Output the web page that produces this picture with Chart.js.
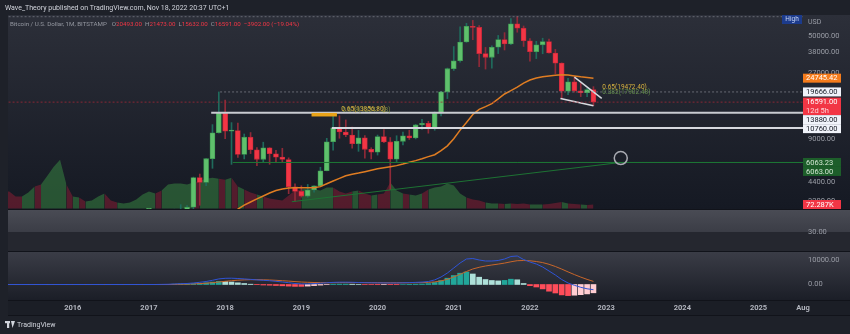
<!DOCTYPE html>
<html>
<head>
<meta charset="utf-8">
<script src="https://cdn.jsdelivr.net/npm/chart.js@4.4.0/dist/chart.umd.min.js"></script>
<style>
  html, body { margin: 0; padding: 0; background: #1e2129; }
  canvas { display: block; }
</style>
</head>
<body>
<canvas id="chart" width="850" height="334"></canvas>
<script>
// monthly BTC/USD (Bitstamp), index 0 = Jan 2015 ... 94 = Nov 2022
const open = [
  320, 217, 254, 244, 236, 230, 263, 284, 230, 236, 313, 378,
  430, 369, 436, 416, 448, 531, 673, 624, 575, 609, 700, 745,
  966, 970, 1190, 1080, 1350, 2300, 2480, 2875, 4720, 4340, 6450, 9960,
  13880, 10221, 10326, 6926, 9245, 7495, 6390, 7730, 7010, 6625, 6370, 4040,
  3740, 3460, 3830, 4100, 5280, 8560, 10820, 10080, 9580, 8290, 9150, 7550,
  7190, 9350, 8540, 6410, 8630, 9450, 9140, 11340, 11650, 10780, 13800, 19700,
  28990, 33110, 45240, 58800, 57700, 37300, 35040, 41460, 47100, 43790, 61300, 57000,
  46200, 38480, 43160, 45530, 37640, 31800, 19930, 23300, 20050, 19430, 20493
];
const high = [
  320, 265, 300, 261, 247, 268, 316, 286, 245, 334, 500, 469,
  462, 448, 440, 469, 552, 780, 703, 626, 631, 740, 752, 975,
  1150, 1208, 1290, 1365, 2780, 3000, 2950, 4750, 5000, 6470, 11400, 19666,
  17176, 11789, 11700, 9750, 9990, 7770, 8500, 7760, 7410, 7680, 6550, 4240,
  4110, 4200, 4100, 5600, 9070, 13880, 13200, 12330, 10950, 10350, 9500, 7750,
  9580, 10500, 9190, 9470, 10070, 10380, 11440, 12470, 12050, 14100, 19900, 29300,
  41950, 58350, 61780, 64900, 59500, 41330, 42400, 50500, 52900, 67000, 69000, 59100,
  47990, 45800, 48200, 47450, 40000, 31950, 24670, 25200, 22800, 20990, 21473
];
const low = [
  152, 212, 236, 214, 228, 218, 253, 162, 225, 235, 311, 349,
  350, 365, 397, 413, 443, 510, 605, 470, 567, 603, 686, 741,
  751, 920, 885, 1060, 1345, 2115, 1830, 2670, 2970, 4110, 5500, 9900,
  9035, 5873, 6600, 6430, 7030, 5750, 6080, 5880, 6100, 6100, 3600, 3160,
  3400, 3390, 3690, 4080, 5270, 7450, 9080, 9320, 7710, 7300, 6500, 6430,
  6860, 8420, 3850, 6150, 8120, 8900, 8980, 10520, 9880, 10370, 13200, 17600,
  28130, 32300, 44950, 47000, 30000, 28800, 29300, 37300, 39600, 43290, 53250, 42000,
  32900, 34300, 37200, 37550, 26700, 17600, 18780, 19600, 18200, 18200, 15632
];
const close = [
  217, 254, 244, 236, 230, 263, 284, 230, 236, 313, 378, 430,
  369, 436, 416, 448, 531, 673, 624, 575, 609, 700, 745, 966,
  970, 1190, 1080, 1350, 2300, 2480, 2875, 4720, 4340, 6460, 9950, 13880,
  10221, 10326, 6926, 9245, 7495, 6390, 7730, 7010, 6625, 6370, 4040, 3740,
  3460, 3830, 4100, 5280, 8560, 10820, 10080, 9580, 8290, 9150, 7550, 7190,
  9350, 8540, 6410, 8630, 9450, 9140, 11340, 11650, 10780, 13800, 19700, 28990,
  33110, 45240, 58800, 57700, 37300, 35040, 41460, 47100, 43790, 61300, 57000, 46200,
  38480, 43160, 45530, 37640, 31800, 19930, 23300, 20050, 19430, 20490, 16591
];
// volume in thousands BTC
const volume = [
  360, 324, 306, 216, 216, 288, 396, 432, 594, 756, 882, 432,
  216, 198, 126, 144, 216, 270, 144, 108, 90, 108, 162, 252,
  306, 270, 324, 432, 450, 450, 432, 468, 504, 540, 558, 540,
  522, 558, 396, 342, 288, 252, 216, 180, 162, 144, 234, 324,
  342, 360, 342, 324, 378, 378, 306, 270, 306, 324, 270, 234,
  252, 270, 468, 324, 270, 252, 234, 270, 342, 378, 396, 450,
  414, 270, 198, 162, 144, 108, 90, 90, 81, 90, 81, 90,
  72, 72, 72, 81, 99, 117, 90, 81, 72, 63, 72.287
];
// orange moving average, from index 37 (Feb 2018)
const maStart = 37;
const maValues = [
  2550, 2780, 2980, 3135, 3300, 3465, 3640, 3800, 3890, 3960,
  3970, 3970, 3970, 3970, 4050, 4250, 4450, 4650, 4850, 4980,
  5080, 5200, 5330, 5450, 5550, 5650, 5750, 5900, 6080, 6250,
  6450, 6680, 6900, 7400, 8000, 9000, 10400, 11800, 13500, 14700,
  15400, 16200, 17500, 19000, 20100, 21300, 22800, 24000, 24800, 25300,
  25700, 26000, 26200, 26100, 25700, 25300, 25000, 24745
];
const macdLine = [
  0, 0, 0, 0, 0, 0, 0, 0, 0, 0, 0, 0,
  0, 0, 0, 0, 0, 0, 0, 0, 0, 0, 0, 0,
  0, 0, 40, 80, 210, 330, 420, 630, 920, 1250, 1750, 2330,
  2580, 2630, 2500, 2330, 2130, 1920, 1750, 1580, 1330, 1040, 750, 420,
  250, 250, 380, 540, 710, 880, 960, 960, 920, 830, 750, 710,
  670, 670, 630, 630, 710, 790, 880, 1000, 1250, 1920, 3130, 4790,
  6880, 8960, 10630, 10830, 10210, 9790, 9790, 10000, 10630, 11670, 11880, 10420,
  9380, 8540, 7290, 5630, 3960, 2080, 630, -330, -1170, -1790, -2170
];
const signalLine = [
  0, 0, 0, 0, 0, 0, 0, 0, 0, 0, 0, 0,
  0, 0, 0, 0, 0, 0, 0, 0, 0, 0, 0, 0,
  0, 0, 0, 0, 40, 100, 170, 250, 380, 540, 750, 1040,
  1330, 1580, 1790, 1920, 2000, 2000, 1960, 1880, 1750, 1580, 1420, 1210,
  1040, 920, 830, 790, 750, 750, 790, 790, 790, 790, 790, 750,
  750, 710, 710, 710, 710, 710, 750, 790, 880, 1080, 1500, 2170,
  3130, 4250, 5420, 6460, 7170, 7710, 8130, 8500, 8920, 9460, 9920, 10000,
  9880, 9580, 9130, 8420, 7500, 6420, 5250, 4130, 3080, 2130, 1290
];
const macdHist = [
  0, 0, 0, 0, 0, 0, 0, 0, 0, 0, 0, 0,
  0, 0, 0, 0, 0, 0, 0, 0, 0, 0, 0, 0,
  0, 0, 0, 0, 130, 210, 250, 380, 500, 710, 1000, 1290,
  1250, 1040, 710, 420, 130, -80, -210, -290, -420, -540, -670, -790,
  -790, -670, -460, -250, -40, 130, 170, 170, 130, 40, -40, -40,
  -80, -40, -80, -80, 0, 80, 130, 210, 380, 830, 1630, 2630,
  3750, 4710, 5210, 4380, 3040, 2080, 1670, 1500, 1710, 2210, 1960, 420,
  -500, -1040, -1830, -2790, -3540, -4330, -4630, -4460, -4250, -3920, -3460
];

const yearTicks = [12, 24, 36, 48, 60, 72, 84, 96, 108, 120, 127];
const yearLabels = ['2016', '2017', '2018', '2019', '2020', '2021', '2022', '2023', '2024', '2025', 'Aug'];
const priceTicks = [50000, 38000, 27000, 20000, 14000, 9000, 4400, 3200];
const rsiTicks = [30];
const macdTicks = [0, 10000];

// drawings: [fromMonth, fromPrice, toMonth, toPrice]
const level13880 = [33.8, 13880, 127, 13880];
const level10760 = [52.8, 10760, 127, 10760];
const level19666 = [35.2, 19666, 127, 19666];
const levelLast = [0, 16591, 127, 16591];
const levelHigh = [0, 69000, 127, 69000];
const level6063 = [37.2, 6063.23, 127, 6063.23];
const greenTrend = [46.5, 3150, 98.3, 6063];
const wedgeTop = [91, 25200, 95.3, 17690];
const wedgeBottom = [88.8, 17600, 94, 15632];
const circleMark = [98.3, 6530];
const fibZone = [49.6, 53.6, 13060, 13856.8];

const upBody = '#5fc06c', downBody = '#f23645';
const upEdge = '#3f9a52', downEdge = '#c5283a';
const upWick = '#1f6b5c', downWick = '#8f2a38';
const volUp = 'rgba(62,155,72,0.45)', volDown = 'rgba(160,30,55,0.45)';

const idx = close.map((_, i) => i);
const isUp = i => close[i] >= open[i];
const seg = (a, color, width, dash) => ({
  type: 'line', yAxisID: 'y',
  data: [{ x: a[0], y: a[1] }, { x: a[2], y: a[3] }],
  borderColor: color, borderWidth: width, borderDash: dash || [],
  pointRadius: 0, order: 2
});

const FONT = 'Roboto, "Noto Sans", sans-serif';

const panePlugin = {
  id: 'panes',
  beforeDraw(chart) {
    const { ctx, width, height } = chart;
    const L = chart.chartArea.left;
    const main = chart.scales.y, rsi = chart.scales.yRsi, macd = chart.scales.yMacd;
    ctx.save();
    ctx.fillStyle = '#1e2129';
    ctx.fillRect(0, 0, width, height);
    let g = ctx.createLinearGradient(0, main.top, 0, main.bottom);
    g.addColorStop(0, '#2c2f39');
    g.addColorStop(1, '#151923');
    ctx.fillStyle = g;
    ctx.fillRect(L, main.top, width - L, main.bottom - main.top);
    ctx.fillStyle = '#25272f';
    ctx.fillRect(L, rsi.top, width - L, rsi.bottom - rsi.top);
    const b30 = rsi.getPixelForValue(30);
    g = ctx.createLinearGradient(0, rsi.top, 0, b30);
    g.addColorStop(0, '#4a4c55');
    g.addColorStop(1, '#3b3d46');
    ctx.fillStyle = g;
    ctx.fillRect(L, rsi.top, width - L, b30 - rsi.top);
    g = ctx.createLinearGradient(0, macd.top, 0, macd.bottom);
    g.addColorStop(0, '#3b3d47');
    g.addColorStop(1, '#1b1e27');
    ctx.fillStyle = g;
    ctx.fillRect(L, macd.top, width - L, macd.bottom - macd.top);
    ctx.fillStyle = '#1b1e26';
    ctx.fillRect(L, macd.bottom, width - L, 15);
    ctx.strokeStyle = '#11131a';
    ctx.lineWidth = 1;
    [main.bottom, rsi.bottom, macd.bottom, macd.bottom + 15].forEach(y => {
      ctx.beginPath(); ctx.moveTo(L, Math.round(y) + 0.5); ctx.lineTo(width, Math.round(y) + 0.5); ctx.stroke();
    });
    ctx.restore();
  },
  afterDatasetsDraw(chart) {
    const { ctx } = chart;
    const x = chart.scales.x, y = chart.scales.y;
    ctx.save();
    // fib zone
    const zx0 = x.getPixelForValue(fibZone[0]), zx1 = x.getPixelForValue(fibZone[1]);
    const zy0 = y.getPixelForValue(fibZone[3]), zy1 = y.getPixelForValue(fibZone[2]);
    ctx.fillStyle = '#e9a318';
    ctx.fillRect(zx0, zy0, zx1 - zx0, zy1 - zy0);
    ctx.font = '6.5px ' + FONT;
    ctx.textBaseline = 'bottom';
    ctx.textAlign = 'left';
    let tx = x.getPixelForValue(54.3), ty = y.getPixelForValue(13856.8);
    ctx.fillStyle = 'rgba(140,160,70,0.8)';
    ctx.fillText('0.618(13547.38)', tx + 1, ty + 1);
    ctx.fillStyle = '#d6b13e';
    ctx.fillText('0.65(13856.80)', tx, ty - 0.5);
    tx = x.getPixelForValue(95.4);
    ctx.fillStyle = 'rgba(110,160,80,0.85)';
    ctx.fillText('0.382(17902.48)', tx, y.getPixelForValue(17902.48) - 2);
    ctx.fillStyle = '#d6b13e';
    ctx.fillText('0.65(19472.40)', tx, y.getPixelForValue(19472.4) - 2);
    ctx.restore();
  },
  afterDraw(chart) {
    const { ctx } = chart;
    const area = chart.chartArea;
    ctx.save();
    // header
    ctx.fillStyle = '#d1d4dc';
    ctx.font = '7px ' + FONT;
    ctx.textBaseline = 'middle';
    ctx.textAlign = 'left';
    ctx.fillText('Wave_Theory published on TradingView.com, Nov 18, 2022 20:37 UTC+1', 5, 8);
    // legend
    ctx.font = '6.2px ' + FONT;
    let lx = 10;
    const put = (t, c, gap) => { ctx.fillStyle = c; ctx.fillText(t, lx, 24); lx += ctx.measureText(t).width + (gap || 0); };
    put('Bitcoin / U.S. Dollar, 1M, BITSTAMP', '#9598a1', 5);
    put('O', '#9598a1'); put('20493.00', '#f23645', 3);
    put('H', '#9598a1'); put('21473.00', '#f23645', 3);
    put('L', '#9598a1'); put('15632.00', '#f23645', 3);
    put('C', '#9598a1'); put('16591.00', '#f23645', 3);
    put('\u22123902.00 (\u221219.04%)', '#f23645');
    // High marker + USD
    ctx.fillStyle = '#1c3b8c';
    ctx.fillRect(area.right - 21, area.top, 20, 9);
    ctx.fillStyle = '#c9d6f5';
    ctx.font = '6.5px ' + FONT;
    ctx.textAlign = 'center';
    ctx.fillText('High', area.right - 11, area.top + 4.7);
    ctx.textAlign = 'left';
    ctx.fillStyle = '#9a9da6';
    ctx.font = '7px ' + FONT;
    ctx.fillText('USD', area.right + 5, area.top + 7);
    // price tags
    const tags = [
      { axis: 'y', value: 24745.42, lines: ['24745.42'], bg: '#f57c1c', fg: '#ffffff' },
      { axis: 'y', value: 19666, lines: ['19666.00'], bg: '#f0f3fa', fg: '#131722' },
      { axis: 'y', value: 16591, lines: ['16591.00', '12d 5h'], bg: '#f23645', fg: '#ffffff' },
      { axis: 'y', value: 13880, lines: ['13880.00'], bg: '#f0f3fa', fg: '#131722' },
      { axis: 'y', value: 10760, lines: ['10760.00'], bg: '#f0f3fa', fg: '#131722' },
      { axis: 'y', value: 6063.23, lines: ['6063.23'], bg: '#1d5e2a', fg: '#d2e6d2' },
      { axis: 'y', value: 6063, lines: ['6063.00'], bg: '#1d5e2a', fg: '#d2e6d2' },
      { axis: 'yVol', value: 72.287, lines: ['72.287K'], bg: '#f23645', fg: '#ffffff' }
    ];
    ctx.font = '7.5px ' + FONT;
    let prevBottom = -1e9;
    tags.map(t => ({ ...t, py: chart.scales[t.axis].getPixelForValue(t.value) }))
      .sort((a, b) => a.py - b.py)
      .forEach(t => {
        const h = t.lines.length * 8.5 + 0.5;
        let top = t.py - 4.5;
        if (top < prevBottom) top = prevBottom;
        ctx.fillStyle = t.bg;
        ctx.fillRect(area.right, top, 38, h);
        t.lines.forEach((s, k) => {
          ctx.fillStyle = k === 0 ? t.fg : '#ffd2d6';
          ctx.fillText(s, area.right + 3, top + 4.7 + k * 8.5);
        });
        prevBottom = top + h;
      });
    // footer
    ctx.fillStyle = '#d1d4dc';
    ctx.fillRect(5, 321, 5, 2.2);
    ctx.fillRect(7, 321, 2.2, 7);
    ctx.beginPath(); ctx.moveTo(11, 321); ctx.lineTo(15, 321); ctx.lineTo(12.5, 328); ctx.closePath(); ctx.fill();
    ctx.font = '7px ' + FONT;
    ctx.fillText('TradingView', 17, 325);
    ctx.restore();
  }
};

const axisFont = { family: FONT, size: 7.5 };
const fixTicks = list => s => { s.ticks = list.map(v => ({ value: v })); };
const rightAxis = (extra) => Object.assign({
  position: 'right', bounds: 'data',
  grid: { display: false, drawTicks: false }, border: { display: false },
  ticks: { color: '#9a9da6', font: axisFont, padding: 5, autoSkip: false, callback: v => Number(v).toFixed(2) },
  afterFit: s => { s.width = 47; }
}, extra);

new Chart(document.getElementById('chart'), {
  type: 'bar',
  data: {
    datasets: [
      {
        type: 'line', yAxisID: 'yVol',
        data: volume.map((v, i) => ({ x: i, y: v })),
        fill: 'origin', borderWidth: 0, pointRadius: 0, backgroundColor: volUp,
        segment: { backgroundColor: c => isUp(c.p1DataIndex) ? volUp : volDown },
        order: 20
      },
      {
        type: 'bar', yAxisID: 'y',
        data: idx.map(i => ({ x: i, y: [low[i], high[i]] })),
        backgroundColor: idx.map(i => isUp(i) ? upWick : downWick),
        barThickness: 1, grouped: false, order: 12
      },
      {
        type: 'bar', yAxisID: 'y',
        data: idx.map(i => ({ x: i, y: [open[i], close[i]] })),
        backgroundColor: idx.map(i => isUp(i) ? upBody : downBody),
        borderColor: idx.map(i => isUp(i) ? upEdge : downEdge),
        borderWidth: 0.8, borderSkipped: false,
        barThickness: 5, minBarLength: 1, grouped: false, order: 11
      },
      {
        type: 'line', yAxisID: 'y',
        data: maValues.map((v, k) => ({ x: maStart + k, y: v })),
        borderColor: '#e07d22', borderWidth: 1.5, pointRadius: 0, order: 3
      },
      seg(levelHigh, 'rgba(150,152,160,0.55)', 1, [2, 2]),
      seg(levelLast, 'rgba(160,40,55,0.8)', 1, [2, 2]),
      seg(level19666, 'rgba(150,152,160,0.6)', 1, [2, 2]),
      seg(level13880, '#c9cbd1', 2),
      seg(level10760, '#d6d8de', 2),
      seg(level6063, '#1d7a35', 1),
      seg(greenTrend, '#1d7233', 1),
      seg(wedgeTop, '#d9dbe0', 1.5),
      seg(wedgeBottom, '#d9dbe0', 1.5),
      {
        type: 'line', yAxisID: 'y', showLine: false,
        data: [{ x: circleMark[0], y: circleMark[1] }],
        pointRadius: 6.5, pointBorderColor: '#a9abb2', pointBorderWidth: 1.5,
        pointBackgroundColor: 'rgba(0,0,0,0)', order: 1
      },
      {
        type: 'bar', yAxisID: 'yMacd',
        data: macdHist.map((v, i) => ({ x: i, y: v })),
        backgroundColor: macdHist.map((v, i) => {
          const prev = i > 0 ? macdHist[i - 1] : 0;
          if (v >= 0) return v >= prev ? '#22a79a' : '#aee0d9';
          return v <= prev ? '#ff4d5a' : '#ffcdd2';
        }),
        barThickness: 5, grouped: false, order: 8
      },
      {
        type: 'line', yAxisID: 'yMacd',
        data: macdLine.map((v, i) => ({ x: i, y: v })),
        borderColor: '#2f54d6', borderWidth: 1, pointRadius: 0, order: 6
      },
      {
        type: 'line', yAxisID: 'yMacd',
        data: signalLine.map((v, i) => ({ x: i, y: v })),
        borderColor: '#c8662a', borderWidth: 1, pointRadius: 0, order: 7
      }
    ]
  },
  options: {
    responsive: false,
    animation: false,
    devicePixelRatio: 1,
    layout: { padding: { top: 15, left: 5, right: 0, bottom: 0 } },
    plugins: { legend: { display: false }, tooltip: { enabled: false } },
    scales: {
      x: {
        type: 'linear', position: 'bottom', min: 1.8, max: 127, offset: false,
        grid: { display: false, drawTicks: false }, border: { display: false },
        ticks: {
          color: '#b2b5be', font: { family: FONT, size: 7.5, weight: 'bold' }, padding: 4,
          maxRotation: 0, autoSkip: false,
          callback: v => yearLabels[yearTicks.indexOf(v)]
        },
        afterBuildTicks: fixTicks(yearTicks),
        afterFit: s => { s.height = 34; }
      },
      y: rightAxis({
        type: 'logarithmic', stack: 'panes', stackWeight: 194, weight: 1,
        min: 2789, max: 71000, afterBuildTicks: fixTicks(priceTicks)
      }),
      yVol: {
        type: 'linear', position: 'right', display: false, weight: 0,
        min: -1653, max: 3497
      },
      yRsi: rightAxis({
        type: 'linear', stack: 'panes', stackWeight: 42, weight: 2,
        min: 11, max: 53, afterBuildTicks: fixTicks(rsiTicks)
      }),
      yMacd: rightAxis({
        type: 'linear', stack: 'panes', stackWeight: 49, weight: 3,
        min: -6458, max: 13958, afterBuildTicks: fixTicks(macdTicks)
      })
    }
  },
  plugins: [panePlugin]
});
</script>
</body>
</html>
